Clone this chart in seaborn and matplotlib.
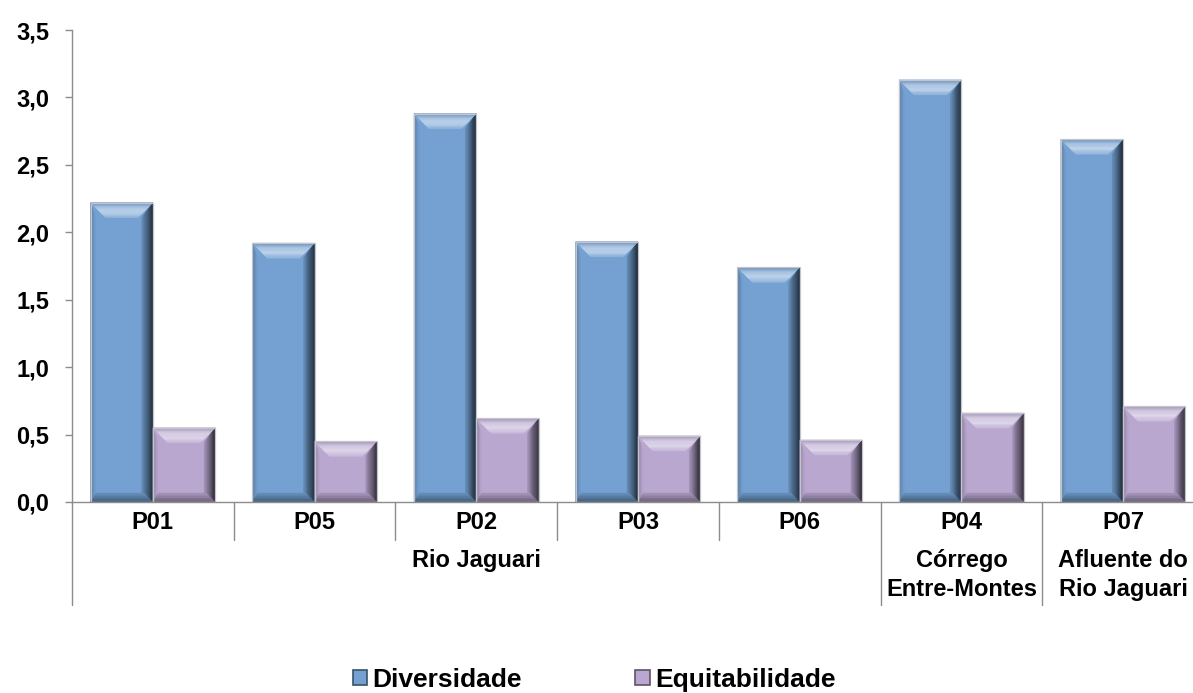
import numpy as np
import pandas as pd
import matplotlib
matplotlib.use("Agg")
import matplotlib.pyplot as plt
from matplotlib.patches import Polygon, Patch
from matplotlib.colors import to_rgb
import seaborn as sns

# Sampling points along the river and their index values
sites = ["P01", "P05", "P02", "P03", "P06", "P04", "P07"]
diversidade = [2.22, 1.92, 2.88, 1.93, 1.74, 3.13, 2.69]
equitabilidade = [0.55, 0.45, 0.62, 0.49, 0.46, 0.66, 0.71]
series_names = ["Diversidade", "Equitabilidade"]
series_colors = ["#74A1D2", "#B9A7D0"]

# Second-level category labels: (text, first site index, last site index)
groups = [
    ("Rio Jaguari", 0, 4),
    ("Córrego\nEntre-Montes", 5, 5),
    ("Afluente do\nRio Jaguari", 6, 6),
]
ytick_values = [0.0, 0.5, 1.0, 1.5, 2.0, 2.5, 3.0, 3.5]

df = pd.DataFrame({
    "site": sites * 2,
    "indice": [series_names[0]] * len(sites) + [series_names[1]] * len(sites),
    "valor": diversidade + equitabilidade,
})

sns.set_style("white")
plt.rcParams["font.family"] = ["Liberation Sans", "DejaVu Sans"]
plt.rcParams["font.weight"] = "bold"
plt.rcParams["text.color"] = "black"

W, H = 1193, 693
fig = plt.figure(figsize=(W / 100, H / 100), dpi=100)
ax_left, ax_bottom = 72 / W, (H - 502) / H
ax_w, ax_h = 1132 / W, 472 / H
ax = fig.add_axes([ax_left, ax_bottom, ax_w, ax_h])

sns.barplot(data=df, x="site", y="valor", hue="indice", order=sites,
            hue_order=series_names, palette=series_colors, saturation=1,
            width=0.77, gap=0, legend=False, ax=ax, edgecolor="none")

ax.set_xlim(-0.5, len(sites) - 0.5)
ax.set_ylim(0, 3.5)

# pixel size of one data unit, used for the bevel geometry
px_x = ax_w * W / (len(sites))
px_y = ax_h * H / 3.5


def mix(c, other, f):
    c = np.array(to_rgb(c))
    o = np.array(to_rgb(other))
    return tuple(c * (1 - f) + o * f)


def shade_face(A, B, C, D, stops, n=10):
    """Fill the quad A-B (outer edge) to C-D (inner edge) with banded colours."""
    A, B, C, D = map(np.array, (A, B, C, D))
    ts = np.linspace(0, 1, n + 1)
    pos = np.linspace(0, 1, len(stops))
    arr = np.array([to_rgb(s) for s in stops])
    for i in range(n):
        t0, t1 = ts[i], ts[i + 1]
        tm = (t0 + t1) / 2
        col = [np.interp(tm, pos, arr[:, k]) for k in range(3)]
        p0a, p0b = A + t0 * (C - A), B + t0 * (D - B)
        p1a, p1b = A + t1 * (C - A), B + t1 * (D - B)
        ax.add_patch(Polygon([p0a, p0b, p1b, p1a], closed=True,
                             facecolor=col, edgecolor=col, lw=0.3, zorder=3))


bars = [p for p in ax.patches]
for bar in bars:
    x0, y0 = bar.get_x(), bar.get_y()
    w, h = bar.get_width(), bar.get_height()
    if h <= 0:
        continue
    x1, y1 = x0 + w, y0 + h
    base = bar.get_facecolor()[:3]
    bar.set_zorder(2)
    dt = 15 / px_y
    dtx = 15 / px_x
    db = 9 / px_y
    dbx = 9 / px_x
    dl = 5 / px_x
    dr = 11 / px_x
    # left side
    shade_face((x0, y1), (x0, y0), (x0 + dl, y1 - dt), (x0 + dl, y0 + db),
               [mix(base, "black", 0.28), base], n=4)
    # right side
    shade_face((x1, y1), (x1, y0), (x1 - dr, y1 - dt), (x1 - dr, y0 + db),
               [mix(base, "black", 0.78), mix(base, "black", 0.45),
                mix(base, "black", 0.12)], n=10)
    # bottom
    shade_face((x0, y0), (x1, y0), (x0 + dbx * 0.6, y0 + db), (x1 - dbx, y0 + db),
               [mix(base, "black", 0.45), mix(base, "black", 0.1)], n=6)
    # top bevel
    shade_face((x0, y1), (x1, y1), (x0 + dtx, y1 - dt), (x1 - dtx, y1 - dt),
               [mix(base, "black", 0.15), mix(base, "white", 0.4),
                mix(base, "white", 0.55), mix(base, "white", 0.2)], n=12)
    ax.add_patch(Polygon([(x0, y0), (x0, y1), (x1, y1), (x1, y0)], closed=True,
                         facecolor="none", edgecolor="#C4C4CC", lw=0.9, zorder=4))

# axes styling
spine_col = "#8C8C8C"
for s in ["top", "right"]:
    ax.spines[s].set_visible(False)
ax.spines["left"].set_color(spine_col)
ax.spines["bottom"].set_color(spine_col)
ax.spines["left"].set_linewidth(1.0)
ax.spines["bottom"].set_linewidth(1.0)
ax.spines["bottom"].set_zorder(5)

ax.set_yticks(ytick_values)
ax.set_yticklabels([f"{v:.1f}".replace(".", ",") for v in ytick_values])
ax.tick_params(axis="y", direction="out", length=5, width=1.0, color=spine_col,
               pad=11.5, labelsize=17, left=True, labelcolor="black")
ax.tick_params(axis="x", length=0, pad=6.5, labelsize=17, labelcolor="black")
ax.set_xlabel("")
ax.set_ylabel("")
for lab in ax.get_xticklabels() + ax.get_yticklabels():
    lab.set_fontweight("bold")

# category separators below the axis
trans = ax.get_xaxis_transform()
short = -38 / 472
long_ = -103 / 472
outer_edges = {-0.5, 4.5, 5.5}
for k in range(len(sites)):
    xe = k - 0.5
    ylow = long_ if xe in outer_edges else short
    ax.plot([xe, xe], [0, ylow], transform=trans, color=spine_col, lw=1.0,
            clip_on=False, zorder=5)

# second-level group labels
for text, i0, i1 in groups:
    xc = (i0 + i1) / 2
    ax.text(xc, -47 / 472, text, transform=trans, ha="center", va="top",
            fontsize=17, fontweight="bold", color="black", linespacing=1.32)

handles = [Patch(facecolor=c, edgecolor=mix(c, "black", 0.5), lw=1.2, label=n)
           for c, n in zip(series_colors, series_names)]
fig.legend(handles=handles, loc="center", bbox_to_anchor=(0.498, 0.019), ncol=2,
           frameon=False, prop={"size": 19, "weight": "bold"},
           handlelength=0.55, handleheight=0.55, handletextpad=0.2,
           columnspacing=4.3, labelcolor="black")

fig.savefig("out.png", dpi=100)
